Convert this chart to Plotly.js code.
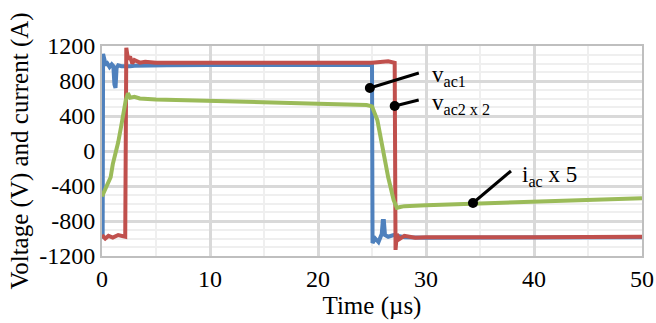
<!DOCTYPE html>
<html><head><meta charset="utf-8">
<script src="https://cdn.plot.ly/plotly-3.0.1.min.js"></script>
<style>html,body{margin:0;padding:0;background:#fff;}#chart{width:656px;height:323px;}</style>
</head><body><div id="chart"></div>
<script>
// vac1 (blue)
const tV1 = [0, 0.06, 0.1, 0.2, 0.35, 0.5, 0.7, 0.9, 1.05, 1.15, 1.25, 1.35, 1.5, 1.8, 2.2, 2.6, 3, 4, 6, 10, 15, 20, 24.9, 25.0, 25.05, 25.3, 25.6, 25.9, 26.0, 26.1, 26.2, 26.5, 27, 28, 30, 40, 50];
const vV1 = [-1000, -980, 1110, 1060, 980, 1000, 960, 990, 970, 760, 720, 950, 980, 970, 965, 970, 975, 978, 980, 982, 982, 982, 982, 982, -1050, -1000, -1040, -950, -800, -800, -960, -980, -960, -985, -990, -990, -985];
// vac2 x 2 (red)
const tV2 = [0, 0.3, 0.6, 1, 1.5, 2.0, 2.15, 2.25, 2.4, 2.6, 2.8, 3.0, 3.5, 4, 5, 10, 20, 25, 26.5, 27.1, 27.18, 27.3, 27.5, 28, 29, 30, 40, 50];
const vV2 = [-960, -1000, -970, -990, -960, -980, -980, 1180, 1050, 1080, 1000, 1040, 1010, 1020, 1008, 1008, 1008, 1008, 1025, 1008, -1130, -950, -1010, -970, -990, -985, -985, -980];
// iac x 5 (green)
const tI = [0, 0.2, 0.5, 0.8, 1.0, 1.3, 1.5, 1.8, 2.0, 2.2, 2.4, 2.6, 3, 3.5, 5, 10, 15, 20, 24.5, 25, 25.5, 26, 26.5, 27, 27.3, 27.6, 28, 30, 35, 40, 45, 50];
const vI = [-520, -470, -380, -300, -150, 0, 100, 300, 450, 580, 660, 610, 620, 600, 590, 570, 550, 540, 525, 510, 350, 0, -300, -560, -650, -640, -630, -620, -600, -580, -560, -540];

const xTicks = [0, 10, 20, 30, 40, 50];
const yTicks = [-1200, -800, -400, 0, 400, 800, 1200];

const serif = "Liberation Serif";
const traces = [
  {x: tV1, y: vV1, mode: 'lines', line: {color: '#4F81BD', width: 4}},
  {x: tV2, y: vV2, mode: 'lines', line: {color: '#C0504D', width: 4}},
  {x: tI, y: vI, mode: 'lines', line: {color: '#9BBB59', width: 4}}
];
const layout = {
  width: 656, height: 323,
  margin: {l: 102, r: 14, t: 46, b: 67},
  paper_bgcolor: '#fff', plot_bgcolor: '#fff',
  showlegend: false,
  font: {family: serif, color: '#000', size: 24},
  xaxis: {
    range: [0, 50], tickvals: xTicks, ticktext: xTicks.map(String),
    showgrid: true, gridcolor: '#d9d9d9', gridwidth: 3,
    minor: {dtick: 5, showgrid: true, gridcolor: '#efefef', gridwidth: 2},
    showline: true, linecolor: '#bfbfbf', linewidth: 2, mirror: true,
    zeroline: false, ticks: '', tickfont: {family: serif, color: '#000', size: 24},
    title: {text: 'Time (µs)', font: {family: serif, color: '#000', size: 25}, standoff: 2}
  },
  yaxis: {
    range: [-1200, 1200], tickvals: yTicks, ticktext: yTicks.map(String),
    showgrid: true, gridcolor: '#d9d9d9', gridwidth: 3,
    minor: {dtick: 100, showgrid: true, gridcolor: '#efefef', gridwidth: 2},
    showline: true, linecolor: '#bfbfbf', linewidth: 2, mirror: true,
    zeroline: false, ticks: '', tickfont: {family: serif, color: '#000', size: 24},
    title: {text: 'Voltage (V) and current (A)', font: {family: serif, color: '#000', size: 25}, standoff: 3}
  },
  annotations: [
    {xref: 'paper', yref: 'paper', x: (430-102)/540, y: (256-76)/210, xanchor: 'left', yanchor: 'middle', showarrow: false, text: 'v<sub>ac1</sub>', font: {family: serif, color: '#000', size: 23}},
    {xref: 'paper', yref: 'paper', x: (430-102)/540, y: (256-104)/210, xanchor: 'left', yanchor: 'middle', showarrow: false, text: 'v<sub>ac2 x 2</sub>', font: {family: serif, color: '#000', size: 23}},
    {xref: 'paper', yref: 'paper', x: (520-102)/540, y: (256-176)/210, xanchor: 'left', yanchor: 'middle', showarrow: false, text: 'i<sub>ac</sub> x 5', font: {family: serif, color: '#000', size: 23}}
  ],
  shapes: []
};
// leader lines: anchor point on the trace, pixel offset of the far end (right, up)
const leaders = [[24.8, 720, 49, 15], [27.1, 514, 24, 6], [34.35, -594, 38, 32]];
leaders.forEach(d => {
  layout.shapes.push({type: 'line', xref: 'x', yref: 'y', xsizemode: 'pixel', ysizemode: 'pixel', xanchor: d[0], yanchor: d[1], x0: 0, y0: 0, x1: d[2], y1: d[3], line: {color: '#000', width: 3}});
  layout.shapes.push({type: 'circle', xref: 'x', yref: 'y', xsizemode: 'pixel', ysizemode: 'pixel', xanchor: d[0], yanchor: d[1], x0: -5, x1: 5, y0: -5, y1: 5, fillcolor: '#000', line: {width: 0}});
});
Plotly.newPlot('chart', traces, layout, {displayModeBar: false, staticPlot: true});
</script></body></html>
